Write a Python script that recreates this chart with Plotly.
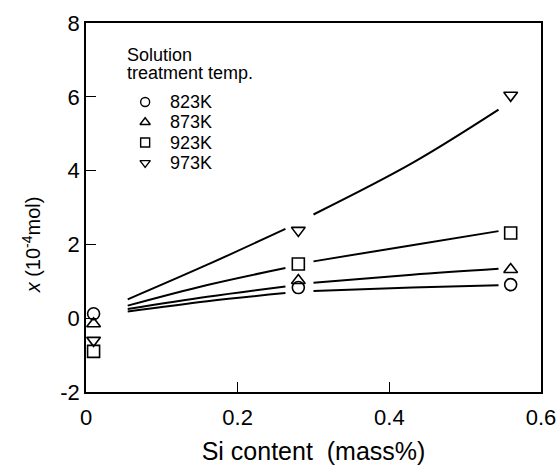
import plotly.graph_objects as go

# ---- data ----
si_content = [0.01, 0.28, 0.56]
x_823 = [0.12, 0.83, 0.91]
x_873 = [-0.15, 1.02, 1.32]
x_923 = [-0.90, 1.47, 2.31]
x_973 = [-0.60, 2.38, 6.04]

fit_si_lo = [0.055, 0.16, 0.263]
fit_si_hi = [0.30, 0.43, 0.544]
fit_823_lo = [0.18, 0.46, 0.68]
fit_823_hi = [0.74, 0.83, 0.89]
fit_873_lo = [0.25, 0.58, 0.86]
fit_873_hi = [0.96, 1.18, 1.34]
fit_923_lo = [0.34, 0.90, 1.36]
fit_923_hi = [1.54, 1.98, 2.36]
fit_973_lo = [0.51, 1.45, 2.42]
fit_973_hi = [2.81, 4.20, 5.65]

temps = ["823K", "873K", "923K", "973K"]
x_tickvals = [0, 0.2, 0.4, 0.6]
x_ticktext = ["0", "0.2", "0.4", "0.6"]
y_tickvals = [-2, 0, 2, 4, 6, 8]
y_ticktext = ["-2", "0", "2", "4", "6", "8"]

FONT = "Liberation Sans, Arial, sans-serif"
series = [
    (x_823, fit_823_lo, fit_823_hi, "circle-open"),
    (x_873, fit_873_lo, fit_873_hi, "triangle-up-open"),
    (x_923, fit_923_lo, fit_923_hi, "square-open"),
    (x_973, fit_973_lo, fit_973_hi, "triangle-down-open"),
]

fig = go.Figure()
for vals, lo, hi, sym in series:
    fig.add_trace(go.Scatter(
        x=fit_si_lo + [None] + fit_si_hi,
        y=lo + [None] + hi,
        mode="lines", line=dict(color="black", width=2, shape="spline"),
        connectgaps=False, showlegend=False, hoverinfo="skip"))
    fig.add_trace(go.Scatter(
        x=si_content, y=vals, mode="markers",
        marker=dict(symbol=sym, size=12, color="black", line=dict(width=1.6, color="black")),
        showlegend=False))

# ---- manual legend (in data coordinates) ----
leg_x = 0.078
leg_y0 = 5.86
leg_dy = 0.55
syms = [s[3] for s in series]
fig.add_trace(go.Scatter(
    x=[leg_x] * 4, y=[leg_y0 - i * leg_dy for i in range(4)],
    mode="markers",
    marker=dict(symbol=syms, size=9, color="black", line=dict(width=1.4, color="black")),
    showlegend=False, hoverinfo="skip"))
for i, t in enumerate(temps):
    fig.add_annotation(x=leg_x + 0.03, y=leg_y0 - i * leg_dy, xref="x", yref="y",
                       text=t, showarrow=False, xanchor="left", yanchor="middle",
                       font=dict(family=FONT, size=18, color="black"))
for txt, yy in (("Solution", 7.13), ("treatment temp.", 6.64)):
    fig.add_annotation(x=0.052, y=yy, xref="x", yref="y",
                       text=txt, showarrow=False,
                       xanchor="left", yanchor="middle", align="left",
                       font=dict(family=FONT, size=18, color="black"))

# y-axis title
fig.add_annotation(x=-0.121, y=2.0, xref="paper", yref="y",
                   text="<i>x</i> (10<sup>-4</sup>mol)", textangle=-90,
                   showarrow=False, xanchor="center", yanchor="middle",
                   font=dict(family=FONT, size=20, color="black"))

fig.update_layout(
    width=557, height=465,
    margin=dict(l=86, r=16, t=23, b=73),
    paper_bgcolor="white", plot_bgcolor="white",
    font=dict(family=FONT, color="black"),
    xaxis=dict(range=[0, 0.6], tickvals=x_tickvals, ticktext=x_ticktext,
               automargin=False,
               ticks="inside", ticklen=10, tickwidth=1.2, tickcolor="black",
               ticklabelstandoff=5,
               showline=True, linecolor="black", linewidth=1.5, mirror=True,
               showgrid=False, zeroline=False,
               tickfont=dict(family=FONT, size=22, color="black"),
               title=dict(text="Si content  (mass%)", standoff=20,
                          font=dict(family=FONT, size=25, color="black"))),
    yaxis=dict(range=[-2, 8], tickvals=y_tickvals, ticktext=y_ticktext,
               automargin=False,
               ticks="inside", ticklen=10, tickwidth=1.2, tickcolor="black",
               showline=True, linecolor="black", linewidth=1.5, mirror=True,
               showgrid=False, zeroline=False,
               tickfont=dict(family=FONT, size=22, color="black")),
)

# remove the browser's default 8px body margin so the figure fills the window
fig.write_html("out.html", config={"displayModeBar": False},
               post_script="document.body.style.margin='0';")
